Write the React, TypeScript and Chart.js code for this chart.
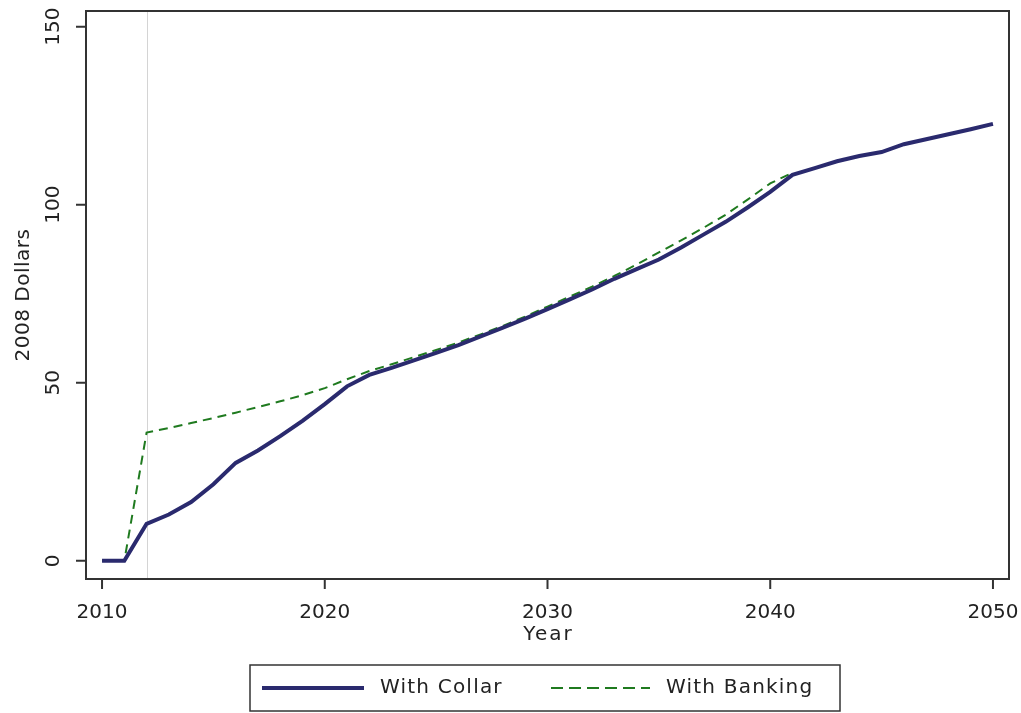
import React, { useEffect, useRef } from "react";
import { Chart, registerables } from "chart.js";

Chart.register(...registerables);

const collarYears = [
  2010, 2011, 2012, 2013, 2014, 2015, 2016, 2017, 2018, 2019,
  2020, 2021, 2022, 2023, 2024, 2025, 2026, 2027, 2028, 2029,
  2030, 2031, 2032, 2033, 2034, 2035, 2036, 2037, 2038, 2039,
  2040, 2041, 2042, 2043, 2044, 2045, 2046, 2047, 2048, 2049, 2050,
];
const withCollar = [
  0, 0, 10.4, 13, 16.5, 21.5, 27.5, 31, 35, 39.3,
  44, 49, 52.2, 54.2, 56.3, 58.4, 60.6, 63, 65.5, 68,
  70.7, 73.4, 76.2, 79.2, 81.9, 84.6, 88, 91.6, 95.2, 99.3,
  103.6, 108.4, 110.3, 112.2, 113.7, 114.8, 117, 118.4, 119.8, 121.2, 122.7,
];
const bankingYears = [
  2010, 2011, 2012, 2013, 2014, 2015, 2016, 2017, 2018, 2019,
  2020, 2021, 2022, 2023, 2024, 2025, 2026, 2027, 2028, 2029,
  2030, 2031, 2032, 2033, 2034, 2035, 2036, 2037, 2038, 2039,
  2040, 2041,
];
const withBanking = [
  0, 0, 36, 37.3, 38.7, 40.1, 41.6, 43.2, 44.8, 46.5,
  48.5, 51, 53.3, 55.2, 57.2, 59.2, 61.3, 63.6, 66, 68.6,
  71.4, 74.2, 77, 80, 83.2, 86.6, 90, 93.5, 97.2, 101.5,
  106, 109,
];
const xTicks = [2010, 2020, 2030, 2040, 2050];
const yTicks = [0, 50, 100, 150];
const xTitle = "Year";
const yTitle = "2008 Dollars";
const seriesLabels = ["With Collar", "With Banking"];
const refYear = 2012;

const FONT = '20px "DejaVu Sans"';
const TEXT = "#222";
const AXIS = "#333";
const COLLAR = "#2a2a6e";
const BANK = "#1f7a1f";

const decorPlugin = {
  id: "decor",
  beforeDatasetsDraw(chart: any) {
    const { ctx, chartArea, scales } = chart;
    const x = Math.round(scales.x.getPixelForValue(refYear)) + 0.5;
    ctx.save();
    ctx.strokeStyle = "#d4d4d4";
    ctx.lineWidth = 1;
    ctx.beginPath();
    ctx.moveTo(x, chartArea.top);
    ctx.lineTo(x, chartArea.bottom);
    ctx.stroke();
    ctx.restore();
  },
  afterDraw(chart: any) {
    const { ctx, chartArea, scales } = chart;
    const { left, right, top, bottom } = chartArea;
    ctx.save();
    // box
    ctx.strokeStyle = AXIS;
    ctx.lineWidth = 2;
    ctx.strokeRect(left, top, right - left, bottom - top);
    // ticks
    ctx.lineWidth = 2;
    ctx.beginPath();
    for (const v of scales.x.ticks.map((t: any) => t.value)) {
      const px = scales.x.getPixelForValue(v);
      ctx.moveTo(px, bottom);
      ctx.lineTo(px, bottom + 10);
    }
    for (const v of scales.y.ticks.map((t: any) => t.value)) {
      const py = scales.y.getPixelForValue(v);
      ctx.moveTo(left, py);
      ctx.lineTo(left - 10, py);
    }
    ctx.stroke();
    // tick labels
    ctx.fillStyle = TEXT;
    ctx.font = FONT;
    ctx.textAlign = "center";
    ctx.textBaseline = "middle";
    for (const t of scales.x.ticks) {
      const px = scales.x.getPixelForValue(t.value);
      ctx.fillText(String(t.value), px, bottom + 34);
    }
    for (const t of scales.y.ticks) {
      const py = scales.y.getPixelForValue(t.value);
      ctx.save();
      ctx.translate(left - 32, py);
      ctx.rotate(-Math.PI / 2);
      ctx.fillText(String(t.value), 0, 0);
      ctx.restore();
    }
    // axis titles
    (ctx as any).letterSpacing = "2px";
    ctx.fillText(xTitle, (left + right) / 2 + 1, bottom + 56);
    (ctx as any).letterSpacing = "0.5px";
    ctx.save();
    ctx.translate(24, (top + bottom) / 2);
    ctx.rotate(-Math.PI / 2);
    ctx.fillText(yTitle, 0, 0);
    ctx.restore();
    // legend
    const lx = 250, ly = 665, lw = 590, lh = 46;
    ctx.lineWidth = 1.5;
    ctx.strokeStyle = AXIS;
    ctx.strokeRect(lx, ly, lw, lh);
    const cy = ly + lh / 2;
    ctx.strokeStyle = COLLAR;
    ctx.lineWidth = 4;
    ctx.beginPath();
    ctx.moveTo(262, cy);
    ctx.lineTo(364, cy);
    ctx.stroke();
    ctx.strokeStyle = BANK;
    ctx.lineWidth = 2;
    ctx.setLineDash([12, 6]);
    ctx.beginPath();
    ctx.moveTo(551, cy);
    ctx.lineTo(650, cy);
    ctx.stroke();
    ctx.setLineDash([]);
    ctx.textAlign = "left";
    ctx.fillStyle = TEXT;
    (ctx as any).letterSpacing = "1.2px";
    ctx.fillText(seriesLabels[0], 380, cy);
    ctx.fillText(seriesLabels[1], 666, cy);
    (ctx as any).letterSpacing = "0px";
    ctx.restore();
  },
};

export default function App() {
  const ref = useRef<HTMLCanvasElement | null>(null);
  useEffect(() => {
    document.body.style.margin = "0";
    const canvas = ref.current;
    if (!canvas) return;
    const chart = new Chart(canvas, {
      type: "line",
      data: {
        datasets: [
          {
            label: seriesLabels[0],
            data: collarYears.map((x, i) => ({ x, y: withCollar[i] })),
            borderColor: COLLAR,
            borderWidth: 4,
            pointRadius: 0,
            tension: 0,
            fill: false,
          },
          {
            label: seriesLabels[1],
            data: bankingYears.map((x, i) => ({ x, y: withBanking[i] })),
            borderColor: BANK,
            borderWidth: 2,
            borderDash: [9, 6],
            pointRadius: 0,
            tension: 0,
            fill: false,
          },
        ],
      },
      options: {
        responsive: false,
        animation: false,
        devicePixelRatio: 1,
        layout: { padding: { left: 86, top: 11, right: 12, bottom: 134 } },
        plugins: { legend: { display: false }, tooltip: { enabled: false } },
        scales: {
          x: {
            type: "linear",
            display: false,
            min: 2009.28,
            max: 2050.72,
            afterBuildTicks: (s: any) => {
              s.ticks = xTicks.map((v) => ({ value: v }));
            },
          },
          y: {
            type: "linear",
            display: false,
            min: -5.1,
            max: 154.4,
            afterBuildTicks: (s: any) => {
              s.ticks = yTicks.map((v) => ({ value: v }));
            },
          },
        },
      },
      plugins: [decorPlugin],
    });
    return () => chart.destroy();
  }, []);
  return (
    <div style={{ position: "absolute", left: 0, top: 0, width: 1021, height: 713, background: "#fff" }}>
      <canvas ref={ref} width={1021} height={713} />
    </div>
  );
}
